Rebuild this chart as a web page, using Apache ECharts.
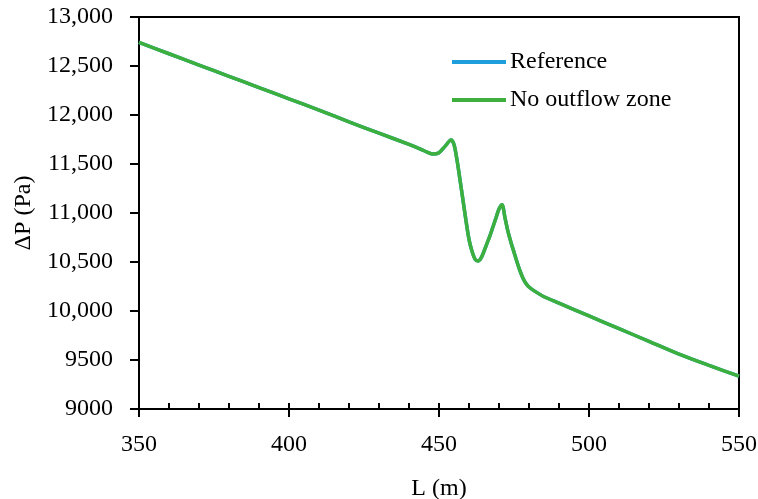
<!DOCTYPE html>
<html>
<head>
<meta charset="utf-8">
<script src="https://cdn.jsdelivr.net/npm/echarts@6/dist/echarts.min.js"></script>
<style>
  html, body { margin: 0; padding: 0; background: #fff; }
  #chart-container { width: 758px; height: 499px; }
</style>
</head>
<body>
<div id="chart-container"></div>
<script>
// distance along the line (m)
const lengths = [350, 360, 370, 380, 390, 400, 410, 420, 430, 440, 444, 446, 448, 450, 452, 454, 455, 456, 457, 458, 459, 460, 461, 462, 463, 464, 465, 466, 467, 468, 469, 470, 471, 472, 473, 474, 475, 476, 477, 478, 479, 480, 482, 485, 490, 500, 510, 520, 530, 540, 550];
// pressure drop (Pa)
const referenceDp = [12740, 12625, 12510, 12395, 12280, 12165, 12050, 11930, 11815, 11700, 11650, 11622, 11602, 11615, 11680, 11745, 11700, 11540, 11340, 11130, 10920, 10730, 10610, 10530, 10510, 10540, 10610, 10690, 10770, 10860, 10950, 11040, 11085, 10950, 10810, 10700, 10600, 10500, 10410, 10335, 10280, 10245, 10200, 10145, 10080, 9950, 9820, 9690, 9560, 9445, 9335];
const noOutflowDp = [12740, 12625, 12510, 12395, 12280, 12165, 12050, 11930, 11815, 11700, 11650, 11622, 11602, 11615, 11680, 11745, 11700, 11540, 11340, 11130, 10920, 10730, 10610, 10530, 10510, 10540, 10610, 10690, 10770, 10860, 10950, 11040, 11085, 10950, 10810, 10700, 10600, 10500, 10410, 10335, 10280, 10245, 10200, 10145, 10080, 9950, 9820, 9690, 9560, 9445, 9335];
const seriesNames = ['Reference', 'No outflow zone'];

const font = '"Liberation Serif", "DejaVu Serif", serif';
const chart = echarts.init(document.getElementById('chart-container'));

const pairs = ys => lengths.map((x, i) => [x, ys[i]]);

chart.setOption({
    animation: false,
    backgroundColor: '#fff',
    textStyle: { fontFamily: font },
    grid: {
        left: 139, right: 19, top: 17, bottom: 90,
        outerBoundsMode: 'none',
        containLabel: false,
        show: true, borderColor: '#000', borderWidth: 2,
    },
    legend: {
        orient: 'vertical',
        left: 447,
        top: 45,
        itemWidth: 54,
        itemHeight: 4,
        itemGap: 14,
        icon: 'rect',
        data: seriesNames,
        textStyle: { fontFamily: font, fontSize: 24, color: '#000', padding: [0, 0, 0, -1] },
    },
    xAxis: [
        {
            type: 'value',
            min: 350, max: 550, interval: 50,
            name: 'L (m)',
            nameLocation: 'middle',
            nameGap: 68,
            nameTextStyle: { fontFamily: font, fontSize: 24, color: '#000' },
            axisLine: { lineStyle: { color: '#000', width: 2 } },
            axisTick: { show: true, length: 8, lineStyle: { color: '#000', width: 2 } },
            axisLabel: { fontFamily: font, fontSize: 24, color: '#000', margin: 24 },
            splitLine: { show: false },
        },
        {
            // minor ticks drawn inside
            type: 'value',
            position: 'bottom',
            min: 350, max: 550, interval: 10,
            axisLine: { show: false },
            axisTick: { show: true, inside: true, length: 6, lineStyle: { color: '#000', width: 2 } },
            axisLabel: { show: false },
            splitLine: { show: false },
        },
    ],
    yAxis: {
        type: 'value',
        min: 9000, max: 13000, interval: 500,
        name: 'ΔP (Pa)',
        nameLocation: 'middle',
        nameGap: 92,
        nameTextStyle: { fontFamily: font, fontSize: 24, color: '#000' },
        axisLine: { show: true, lineStyle: { color: '#000', width: 2 } },
        axisTick: { show: true, length: 9, lineStyle: { color: '#000', width: 2 } },
        axisLabel: {
            fontFamily: font, fontSize: 24, color: '#000', margin: 26,
            formatter: v => v >= 10000 ? v.toLocaleString('en-US') : String(v),
        },
        splitLine: { show: false },
    },
    series: [
        {
            name: seriesNames[0],
            type: 'line',
            data: pairs(referenceDp),
            showSymbol: false,
            smooth: 0.3,
            color: '#1e9fdc',
            lineStyle: { width: 3.5, color: '#1e9fdc' },
        },
        {
            name: seriesNames[1],
            type: 'line',
            data: pairs(noOutflowDp),
            showSymbol: false,
            smooth: 0.3,
            color: '#3daf3d',
            lineStyle: { width: 3.5, color: '#3daf3d' },
        },
    ],
});
</script>
</body>
</html>
